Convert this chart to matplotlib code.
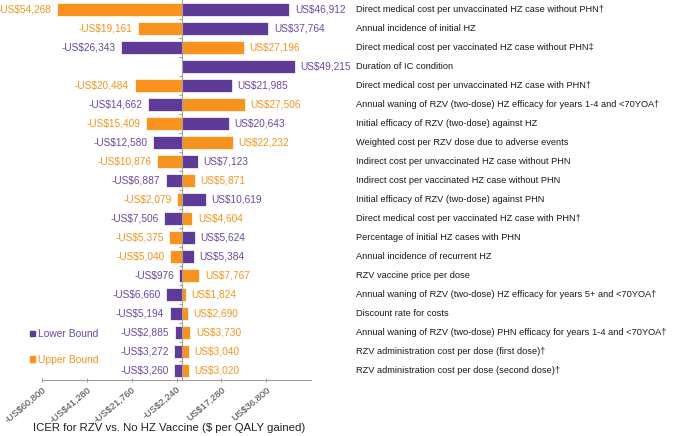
import matplotlib

matplotlib.use("Agg")
import matplotlib.pyplot as plt
from matplotlib.patches import Patch
from matplotlib.transforms import blended_transform_factory

plt.rcParams["font.family"] = ["Liberation Sans", "DejaVu Sans"]

PURPLE = "#5f3b98"
ORANGE = "#f7931e"
PURPLE_TXT = "#6a48a8"
ORANGE_TXT = "#f7941d"

parameters = [
    "Direct medical cost per unvaccinated HZ case without PHN\u2020",
    "Annual incidence of initial HZ",
    "Direct medical cost per vaccinated HZ case without PHN\u2021",
    "Duration of IC condition",
    "Direct medical cost per unvaccinated HZ case with PHN\u2020",
    "Annual waning of RZV (two-dose) HZ efficacy for years 1-4 and <70YOA\u2020",
    "Initial efficacy of RZV (two-dose) against HZ",
    "Weighted cost per RZV dose due to adverse events",
    "Indirect cost per unvaccinated HZ case without PHN",
    "Indirect cost per vaccinated HZ case without PHN",
    "Initial efficacy of RZV (two-dose) against PHN",
    "Direct medical cost per vaccinated HZ case with PHN\u2020",
    "Percentage of initial HZ cases with PHN",
    "Annual incidence of recurrent HZ",
    "RZV vaccine price per dose",
    "Annual waning of RZV (two-dose) HZ efficacy for years 5+ and <70YOA\u2020",
    "Discount rate for costs",
    "Annual waning of RZV (two-dose) PHN efficacy for years 1-4 and <70YOA\u2020",
    "RZV administration cost per dose (first dose)\u2020",
    "RZV administration cost per dose (second dose)\u2020",
]
lower_bound = [46912, 37764, -26343, 49215, 21985, -14662, 20643, -12580, 7123, -6887,
               10619, -7506, 5624, 5384, -976, -6660, -5194, -2885, -3272, -3260]
upper_bound = [-54268, -19161, 27196, None, -20484, 27506, -15409, 22232, -10876, 5871,
               -2079, 4604, -5375, -5040, 7767, 1824, 2690, 3730, 3040, 3020]
x_ticks = [-60800, -41280, -21760, -2240, 17280, 36800]
x_tick_labels = ["-US$60,800", "-US$41,280", "-US$21,760", "-US$2,240", "US$17,280", "US$36,800"]


def money(v):
    return ("-" if v < 0 else "") + "US${:,}".format(abs(v))


fig = plt.figure(figsize=(6.76, 4.36), dpi=100, facecolor="white")
ax = fig.add_axes([42 / 676, 56 / 436, 269 / 676, 380 / 436])

rows = list(range(len(parameters)))
for series, color, tcolor in ((lower_bound, PURPLE, PURPLE_TXT), (upper_bound, ORANGE, ORANGE_TXT)):
    for y, v in zip(rows, series):
        if v is None:
            continue
        ax.barh(y, v, height=0.68, color=color, edgecolor="white", linewidth=0.5)
        ax.annotate(money(v), (v, y), xytext=(4 if v > 0 else -4, 0), textcoords="offset points",
                    ha="left" if v > 0 else "right", va="center", fontsize=7.3, color=tcolor)

lab_tr = blended_transform_factory(fig.transFigure, ax.transData)
for y, name in zip(rows, parameters):
    ax.text(356 / 676, y, name, transform=lab_tr, ha="left", va="center", fontsize=6.7, color="#1a1a1a")

ax.set_xlim(-60800, 56320)
ax.set_ylim(len(parameters) - 0.5, -0.5)
for s in ("top", "right"):
    ax.spines[s].set_visible(False)
ax.spines["left"].set_position(("data", 0))
ax.spines["left"].set_color("#a0a0a0")
ax.spines["bottom"].set_color("#a0a0a0")
ax.set_yticks([r - 0.5 for r in rows[1:]])
ax.set_yticklabels([])
ax.tick_params(axis="y", length=2.5, color="#a0a0a0")
ax.set_xticks(x_ticks)
ax.set_xticklabels(x_tick_labels, rotation=40, ha="right", rotation_mode="anchor",
                   fontsize=6.8, color="#404040")
ax.tick_params(axis="x", length=3, color="#a0a0a0", direction="inout", pad=2)
fig.text(169.5 / 676, 1 - 428 / 436, "ICER for RZV vs. No HZ Vaccine ($ per QALY gained)",
         ha="center", va="center", fontsize=8.2, color="#222222")

handles = [Patch(color=PURPLE, label="Lower Bound"), Patch(color=ORANGE, label="Upper Bound")]
leg = ax.legend(handles=handles, loc="upper left", bbox_to_anchor=(-0.045, 0.134), frameon=False,
                borderaxespad=0, borderpad=0,
                fontsize=7.4, handlelength=0.5, handleheight=0.5, handletextpad=0.3, labelspacing=1.55,
                labelcolor=[PURPLE_TXT, ORANGE_TXT])

fig.savefig("out.png", dpi=100, facecolor="white")
plt.close(fig)
